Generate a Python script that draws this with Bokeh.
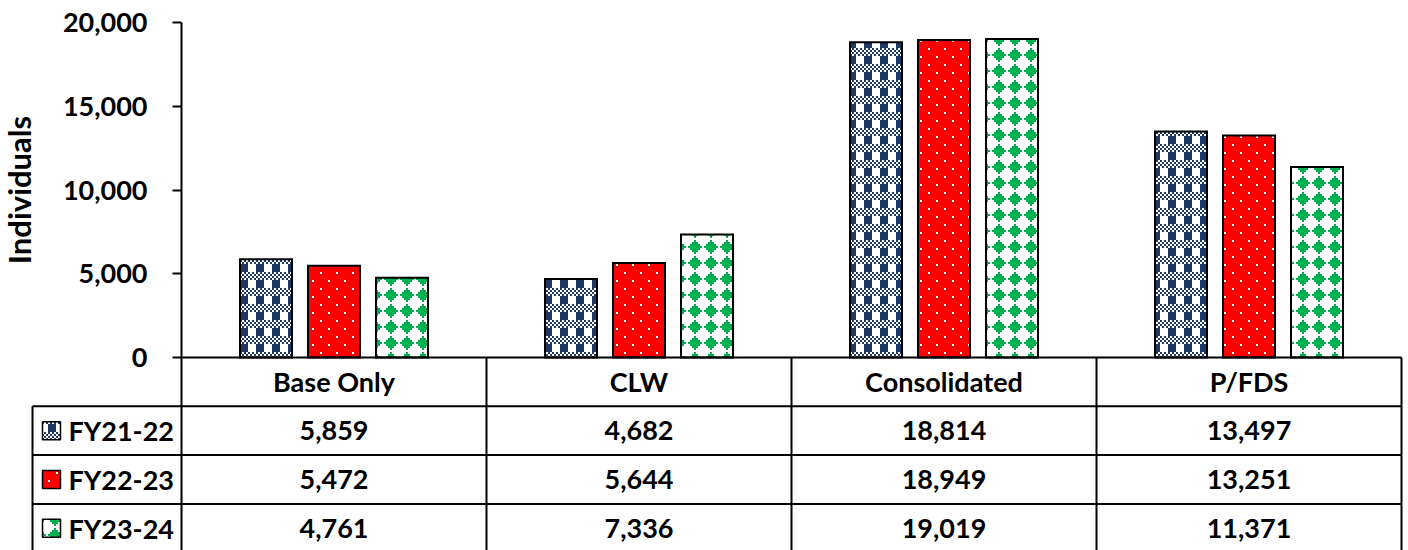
import zlib, struct, base64
from bokeh.plotting import figure
from bokeh.models import Range1d, FixedTicker, NumeralTickFormatter, ImageURLTexture, LinearAxis
from bokeh.core.properties import value
from bokeh.embed import file_html
from bokeh.resources import INLINE

# ---------------- data ----------------
categories = ["Base Only", "CLW", "Consolidated", "P/FDS"]
series_names = ["FY21-22", "FY22-23", "FY23-24"]
fy21_22 = [5859, 4682, 18814, 13497]
fy22_23 = [5472, 5644, 18949, 13251]
fy23_24 = [4761, 7336, 19019, 11371]
y_ticks = [0, 5000, 10000, 15000, 20000]
y_label = "Individuals"

series_values = [fy21_22, fy22_23, fy23_24]

# ---------------- styles ----------------
FONT = "Lato"
NAVY = (31, 56, 100)
RED = (255, 0, 0)
GREEN = (0, 176, 80)
WHITE = (255, 255, 255)


def png_url(rows):
    h = len(rows)
    w = len(rows[0])
    raw = b"".join(b"\x00" + bytes(c for px in row for c in px) for row in rows)

    def chunk(tag, data):
        return (struct.pack(">I", len(data)) + tag + data
                + struct.pack(">I", zlib.crc32(tag + data) & 0xFFFFFFFF))

    png = (b"\x89PNG\r\n\x1a\n"
           + chunk(b"IHDR", struct.pack(">IIBBBBB", w, h, 8, 2, 0, 0, 0))
           + chunk(b"IDAT", zlib.compress(raw))
           + chunk(b"IEND", b""))
    return "data:image/png;base64," + base64.b64encode(png).decode()


def tile(bits, fg, bg, scale=2):
    rows = []
    for line in bits:
        row = []
        for ch in line:
            row += [fg if ch == "1" else bg] * scale
        for _ in range(scale):
            rows.append(list(row))
    return rows


PLAID = ["10101010", "01010101", "10101010", "01010101",
         "11110000", "11110000", "11110000", "11110000"]
DOTS = ["10000000", "00000000", "00000000", "00000000",
        "00001000", "00000000", "00000000", "00000000"]
DIAMOND = ["00010000", "00111000", "01111100", "11111110",
           "01111100", "00111000", "00010000", "00000000"]

styles = [
    dict(key="plaid", url=png_url(tile(PLAID, NAVY, WHITE)), fill="#FFFFFF"),
    dict(key="dots", url=png_url(tile(DOTS, WHITE, RED)), fill="#FF0000"),
    dict(key="diamond", url=png_url(tile(DIAMOND, GREEN, WHITE)), fill="#FFFFFF"),
]

# ---------------- layout (px, figure coords; frame = whole canvas) ----------------
FIG_W = 1408
FIG_H = 550
CAT0_PX = 181           # x of category 0 edge / y axis
CAT4_PX = 1401          # x of category 4 edge
TOP_PX = 22             # y of 20,000
ZERO_PX = 357           # y of value 0
ROW_H = 48.8
LEG_LEFT_PX = 32
SWATCH_PX = 51
LEG_TEXT_PX = 68
BAR_W_PX = 52
BAR_PITCH_PX = 68

PX_PER_CAT = (CAT4_PX - CAT0_PX) / len(categories)
x_start = -CAT0_PX / PX_PER_CAT
x_end = (FIG_W - CAT0_PX) / PX_PER_CAT
units_per_px = y_ticks[-1] / (ZERO_PX - TOP_PX)
y_start = -(FIG_H - ZERO_PX) * units_per_px
y_end = y_ticks[-1] + TOP_PX * units_per_px
r_top = -ZERO_PX / ROW_H
r_bot = (FIG_H - ZERO_PX) / ROW_H

p = figure(width=FIG_W, height=FIG_H,
           x_range=Range1d(x_start, x_end), y_range=Range1d(y_start, y_end),
           output_backend="svg", toolbar_location=None,
           x_axis_location=None, y_axis_location=None,
           min_border_left=0, min_border_right=0,
           min_border_top=0, min_border_bottom=0)
p.extra_y_ranges = {"table": Range1d(r_bot, r_top)}
p.title.visible = False
p.grid.visible = False
p.outline_line_color = None
p.background_fill_color = "white"
p.border_fill_color = "white"

yax = LinearAxis(fixed_location=0, bounds=(y_ticks[0], y_ticks[-1]))
yax.ticker = FixedTicker(ticks=y_ticks)
yax.formatter = NumeralTickFormatter(format="0,0")
yax.major_label_text_font = FONT
yax.major_label_text_font_style = "bold"
yax.major_label_text_font_size = "27px"
yax.major_label_text_color = "black"
yax.major_label_standoff = 25
yax.major_tick_out = 9
yax.major_tick_in = 0
yax.minor_tick_out = 0
yax.minor_tick_in = 0
yax.major_tick_line_width = 2
yax.major_tick_line_color = "black"
yax.axis_line_width = 2
yax.axis_line_color = "black"
yax.axis_label = y_label
yax.axis_label_text_font = FONT
yax.axis_label_text_font_style = "bold"
yax.axis_label_text_font_size = "31px"
yax.axis_label_text_color = "black"
yax.axis_label_standoff = 22
p.add_layout(yax, "left")

# ---------------- bars ----------------
bar_w = BAR_W_PX / PX_PER_CAT
pitch = BAR_PITCH_PX / PX_PER_CAT
n_series = len(series_names)
n_cat = len(categories)
for j, (vals, st) in enumerate(zip(series_values, styles)):
    xs = [i + 0.5 + (j - (n_series - 1) / 2) * pitch for i in range(n_cat)]
    p.vbar(x=xs, top=vals, bottom=0, width=bar_w,
           fill_color=st["fill"], line_color="black", line_width=2, line_join="miter",
           hatch_pattern=value(st["key"]),
           hatch_extra={st["key"]: ImageURLTexture(url=st["url"], repetition="repeat")})

# ---------------- data table ----------------
leg_x = -(CAT0_PX - LEG_LEFT_PX) / PX_PER_CAT
sw_x = -(CAT0_PX - SWATCH_PX) / PX_PER_CAT
txt_x = -(CAT0_PX - LEG_TEXT_PX) / PX_PER_CAT
n_rows = n_series + 1

x0s, y0s, x1s, y1s = [], [], [], []
for i in range(n_cat + 1):
    x0s.append(i); y0s.append(0); x1s.append(i); y1s.append(n_rows)
x0s.append(leg_x); y0s.append(1); x1s.append(leg_x); y1s.append(n_rows)
x0s.append(0); y0s.append(0); x1s.append(n_cat); y1s.append(0)
for r in range(1, n_rows):
    x0s.append(leg_x); y0s.append(r); x1s.append(n_cat); y1s.append(r)
p.segment(x0=x0s, y0=y0s, x1=x1s, y1=y1s, line_color="black", line_width=2,
          y_range_name="table")

txt_kw = dict(text_font=value(FONT), text_font_style="bold", text_font_size="27px",
              text_color="black", text_baseline="middle", y_range_name="table")

p.text(x=[i + 0.5 for i in range(n_cat)], y=[0.5] * n_cat, text=categories,
       text_align="center", **txt_kw)

for j, vals in enumerate(series_values):
    p.text(x=[i + 0.5 for i in range(n_cat)], y=[j + 1.5] * n_cat,
           text=[f"{v:,}" for v in vals], text_align="center", **txt_kw)

for j, (name, st) in enumerate(zip(series_names, styles)):
    p.rect(x=[sw_x], y=[j + 1.5], width=18, height=18,
           width_units="screen", height_units="screen",
           fill_color=st["fill"], line_color="black", line_width=1.5,
           hatch_pattern=value(st["key"]),
           hatch_extra={st["key"]: ImageURLTexture(url=st["url"], repetition="repeat")},
           y_range_name="table")
    p.text(x=[txt_x], y=[j + 1.5], text=[name], text_align="left", **txt_kw)

open("out.html", "w").write(file_html(p, INLINE))
